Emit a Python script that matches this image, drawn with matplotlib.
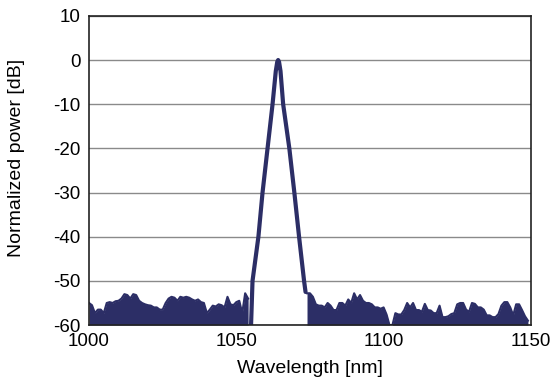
import numpy as np
import matplotlib
matplotlib.use("Agg")
import matplotlib.pyplot as plt

plt.rcParams["font.family"] = ["Liberation Sans", "DejaVu Sans"]
plt.rcParams["axes.unicode_minus"] = False

# Noise floor left of the peak (1 nm steps, 1000-1054 nm)
left_wl = list(range(1000, 1055))
left_db = [-55, -55.5, -57.3, -56.5, -56.5, -57.3, -55, -54.8, -55, -54.6,
           -54.5, -54, -53, -53.2, -54, -53, -53.2, -54.5, -55, -55.3,
           -55.5, -55.6, -56, -56, -56.5, -56.5, -55, -54, -53.6, -53.8,
           -54.5, -53.6, -53.8, -53.6, -53.8, -54.2, -54.5, -54.2, -54.8, -55,
           -57.3, -56.5, -55.6, -55.8, -55.3, -55.5, -56, -53.6, -55.3, -55.5,
           -54.8, -54.5, -57.3, -52.8, -54]

# Laser line
peak_wl = [1055.0, 1055.5, 1057.5, 1058.9, 1060.6, 1062.3, 1063.4, 1063.9, 1064.2,
           1064.5, 1065.0, 1065.9, 1068.0, 1069.7, 1071.3, 1073.0, 1073.5]
peak_db = [-60, -50, -40, -30, -20, -10, -2.5, -0.4, 0,
           -0.4, -2.5, -10, -20, -30, -40, -50, -52.5]

# Noise floor right of the peak (1 nm steps, 1074-1149 nm)
right_wl = list(range(1074, 1150))
right_db = [-52.8, -52.8, -53.6, -55.3, -55.6, -55.6, -56, -55, -55.6, -56.6,
            -56.6, -55, -55, -55.6, -54.2, -55, -52.8, -54.2, -53.2, -54.5,
            -55, -55, -55.3, -56, -56, -56.3, -56, -57.6, -60, -60,
            -57.3, -57.6, -57.6, -56.6, -55, -56, -55, -56.6, -56.6, -57,
            -55.2, -56.6, -56.7, -57.3, -57.3, -55.6, -58.2, -58.2, -58, -57.5,
            -57.3, -55.3, -55, -55, -56.5, -57, -55, -55.2, -56, -56,
            -56.5, -57.8, -57.8, -58.2, -58.2, -57.5, -55.6, -54.8, -54.8, -56,
            -57.8, -55.3, -55.3, -56.6, -58, -59]

color = "#2c2e66"
fig, ax = plt.subplots(figsize=(5.6, 3.87), dpi=100)
fig.subplots_adjust(left=0.159, right=0.948, top=0.959, bottom=0.160)

ax.fill_between(left_wl, -60, left_db, color=color, lw=0)
ax.fill_between(right_wl, -60, right_db, color=color, lw=0)
ax.plot(left_wl, left_db, color=color, lw=1.5)
ax.plot(right_wl, right_db, color=color, lw=1.5)
ax.plot(peak_wl, peak_db, color=color, lw=3, solid_joinstyle="round",
        solid_capstyle="round")

ax.set_xlim(1000, 1150)
ax.set_ylim(-60, 10)
ax.set_xticks([1000, 1050, 1100, 1150])
ax.set_yticks(range(-60, 11, 10))
ax.yaxis.grid(True, color="#8a8a8a", lw=1)
ax.set_axisbelow(True)
ax.tick_params(length=0, labelsize=13.5, pad=6)
for s in ax.spines.values():
    s.set_color("#222222")
    s.set_linewidth(1.2)
ax.set_xlabel("Wavelength [nm]", fontsize=14, labelpad=7)
ax.set_ylabel("Normalized power [dB]", fontsize=14)
ax.yaxis.set_label_coords(-0.145, 0.54)

fig.savefig("out.png", dpi=100)
